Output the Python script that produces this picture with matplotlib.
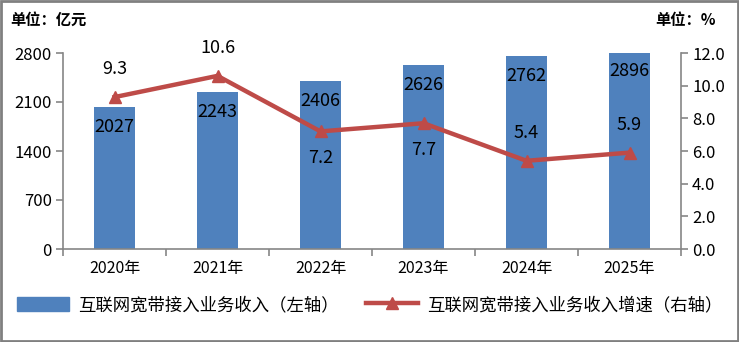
import matplotlib
matplotlib.use("Agg")
import matplotlib.pyplot as plt
import numpy as np
from matplotlib.patches import Rectangle
from matplotlib.lines import Line2D

plt.rcParams['font.family'] = ['Noto Sans CJK SC', 'DejaVu Sans']

years = ['2020年', '2021年', '2022年', '2023年', '2024年', '2025年']
revenue = [2027, 2243, 2406, 2626, 2762, 2896]
growth = [9.3, 10.6, 7.2, 7.7, 5.4, 5.9]
growth_label_above = [True, True, False, False, True, True]
left_ticks = [0, 700, 1400, 2100, 2800]
right_ticks = [0, 2, 4, 6, 8, 10, 12]

bar_color = '#4F81BD'
line_color = '#BE4B48'
spine_color = '#868686'

fig = plt.figure(figsize=(7.39, 3.42), dpi=100)
ax = fig.add_axes([63/739, 1-249/342, (681-63)/739, (249-53)/342])
ax2 = ax.twinx()

x = np.arange(len(years))
bars = ax.bar(x, revenue, width=0.4, color=bar_color, zorder=2)
ax.set_xlim(-0.5, len(years)-0.5)
ax.set_ylim(0, 2800)
ax.set_yticks(left_ticks)
ax.set_yticklabels([str(v) for v in left_ticks], fontsize=12)
ax.set_xticks(x)
ax.set_xticklabels(years, fontsize=11.5)
ax.tick_params(axis='x', length=0, pad=8)
ax.set_xticks(np.arange(-0.5, len(years)), minor=True)
ax.tick_params(axis='x', which='minor', length=5, color=spine_color, width=1.2)
ax.tick_params(axis='y', length=5, color=spine_color, width=1.2, pad=3)

for s in ['top', 'right']:
    ax.spines[s].set_visible(False)
for s in ['left', 'bottom']:
    ax.spines[s].set_color(spine_color)
    ax.spines[s].set_linewidth(1.2)

for xi, v in zip(x, revenue):
    off = -20 if v <= 2800 else -24
    ax.annotate(str(v), (xi, min(v, 2800)), xytext=(0, off if v <= 2800 else -18),
                textcoords='offset pixels', ha='center', va='center', fontsize=13, zorder=5,
                annotation_clip=False)

ax2.plot(x, growth, color=line_color, lw=3.2, marker='^', markersize=9, zorder=3)
ax2.set_ylim(0, 12)
ax2.set_yticks(right_ticks)
ax2.set_yticklabels([f'{v:.1f}' for v in right_ticks], fontsize=12)
ax2.tick_params(axis='y', length=5, color=spine_color, width=1.2, pad=3)
for s in ['top', 'left', 'bottom']:
    ax2.spines[s].set_visible(False)
ax2.spines['right'].set_color(spine_color)
ax2.spines['right'].set_linewidth(1.2)

for xi, v, above in zip(x, growth, growth_label_above):
    ax2.annotate(f'{v:.1f}', (xi, v), xytext=(0, 28 if above else -27),
                 textcoords='offset pixels', ha='center', va='center', fontsize=13, zorder=5,
                 annotation_clip=False)

fig.text(10/739, 1-20/342, '单位：亿元', fontsize=11, fontweight='bold', ha='left', va='center')
fig.text(716/739, 1-20/342, '单位：%', fontsize=11, fontweight='bold', ha='right', va='center')

handles = [Rectangle((0, 0), 1, 1, color=bar_color),
           Line2D([0], [0], color=line_color, lw=3.2, marker='^', markersize=9)]
labels = ['互联网宽带接入业务收入（左轴）', '互联网宽带接入业务收入增速（右轴）']
fig.legend(handles, labels, loc='center', bbox_to_anchor=(0.5, 1-305/342), ncol=2,
           frameon=False, fontsize=12.5, handlelength=3.0, handleheight=0.9,
           handletextpad=0.5, columnspacing=1.6)

fig.add_artist(Rectangle((0.0015, 0.003), 0.997, 0.994, transform=fig.transFigure,
                         fill=False, edgecolor='#808080', lw=2))

fig.savefig('out.png', dpi=100)
